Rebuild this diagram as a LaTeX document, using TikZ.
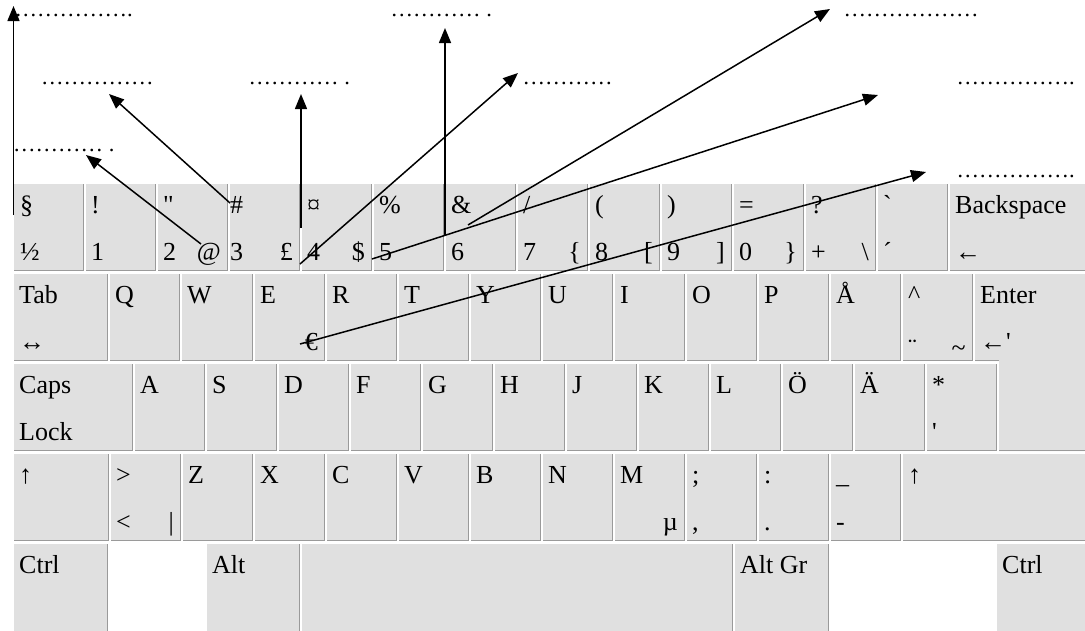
\documentclass[tikz,border=0pt]{standalone}
\usepackage{fontspec}
\setmainfont{Liberation Serif}
\usetikzlibrary{arrows.meta}

\definecolor{keyface}{HTML}{E0E0E0}
\definecolor{keyedge}{HTML}{9A9A9A}

\begin{document}
\begin{tikzpicture}[x=1pt,y=-1pt,
    keycap/.style={fill=keyface},
    keyline/.style={draw=keyedge,line width=1.3pt},
    keytext/.style={inner sep=0pt,font=\fontsize{26}{30}\selectfont},
    dotline/.style={inner sep=0pt,anchor=base west,font=\fontsize{22.5}{27}\selectfont},
    pointer/.style={line width=1.5pt,-{Triangle[length=15pt,width=12pt]}}]
    \useasboundingbox (0,0) rectangle (1085,630);

    % number row
    \foreach \xa/\xb/\dx/\up/\lo/\rt [count=\i] in {12/84/8/§/½/{}, 84/156/7/!/1/{},
        156/228/7/\textquotedbl/2/@, 228/300/2/\#/3/£, 300/372/7/¤/4/\$,
        372/444/7/\%/5/{}, 444/516/7/\&/6/{}, 516/588/7/{/}/7/\{, 588/660/7/(/8/[,
        660/732/7/)/9/], 732/804/7/=/0/\}, 804/876/7/?/+/\textbackslash,
        876/948/7/\textasciigrave/´/{}, 948/1087/7/Backspace/←/{}}{
        \path[keycap] (\xa+2,184) rectangle (\xb,271);
        \draw[keyline] (\xb-0.65,184) -- (\xb-0.65,270.35) -- (\xa+2,270.35);
        \node[keytext,anchor=base west] (numup\i) at (\xa+\dx,213) {\up};
        \node[keytext,anchor=base west] (numlo\i) at (\xa+\dx,260.5) {\lo};
        \node[keytext,anchor=base east] (numrt\i) at (\xb-7,260.5) {\rt};
    }

    % qwerty row
    \foreach \xa/\xb/\up/\lo/\rt [count=\i] in {12/108/Tab/↔/{}, 108/180/Q/{}/{},
        180/253/W/{}/{}, 253/325/E/{}/€, 325/397/R/{}/{}, 397/469/T/{}/{},
        469/541/Y/{}/{}, 541/613/U/{}/{}, 613/685/I/{}/{}, 685/757/O/{}/{},
        757/829/P/{}/{}, 829/901/Å/{}/{}, 901/973/\textasciicircum/{}/{}}{
        \path[keycap] (\xa+2,274) rectangle (\xb,361);
        \draw[keyline] (\xb-0.65,274) -- (\xb-0.65,360.35) -- (\xa+2,360.35);
        \node[keytext,anchor=base west] (qup\i) at (\xa+7,303) {\up};
        \node[keytext,anchor=base west] (qlo\i) at (\xa+7,350.5) {\lo};
        \node[keytext,anchor=base east] (qrt\i) at (\xb-7,350.5) {\rt};
    }
    \node[keytext,anchor=base west] (dier) at (908,356) {¨};
    \node[keytext,anchor=base east] (tilde) at (966,356) {\textasciitilde};

    % enter, over two rows
    \path[keycap] (975,274) -- (1087,274) -- (1087,451) -- (999,451)
        -- (999,361) -- (975,361) -- cycle;
    \draw[keyline] (975,360.35) -- (999,360.35);
    \draw[keyline] (999,450.35) -- (1087,450.35);
    \node[keytext,anchor=base west] (enter) at (980,303) {Enter};
    \node[keytext,anchor=base west] (enterlo) at (980,350.5) {←\textquotesingle};

    % home row
    \foreach \xa/\xb/\up/\lo [count=\i] in {12/133/Caps/Lock, 133/205/A/{},
        205/277/S/{}, 277/349/D/{}, 349/421/F/{}, 421/493/G/{}, 493/565/H/{},
        565/637/J/{}, 637/709/K/{}, 709/781/L/{}, 781/853/Ö/{}, 853/925/Ä/{},
        925/997/*/\textquotesingle}{
        \path[keycap] (\xa+2,364) rectangle (\xb,451);
        \draw[keyline] (\xb-0.65,364) -- (\xb-0.65,450.35) -- (\xa+2,450.35);
        \node[keytext,anchor=base west] (hup\i) at (\xa+7,393) {\up};
        \node[keytext,anchor=base west] (hlo\i) at (\xa+7,440.5) {\lo};
    }

    % shift row
    \foreach \xa/\xb/\up/\lo/\rt [count=\i] in {12/109/↑/{}/{}, 109/181/>/</|,
        181/253/Z/{}/{}, 253/325/X/{}/{}, 325/397/C/{}/{}, 397/469/V/{}/{},
        469/541/B/{}/{}, 541/613/N/{}/{}, 613/685/M/{}/µ, 685/757/{;}/{,}/{},
        757/829/{:}/{.}/{}, 829/901/\_/-/{}, 901/1087/↑/{}/{}}{
        \path[keycap] (\xa+2,454) rectangle (\xb,541);
        \draw[keyline] (\xb-0.65,454) -- (\xb-0.65,540.35) -- (\xa+2,540.35);
        \node[keytext,anchor=base west] (sup\i) at (\xa+7,483) {\up};
        \node[keytext,anchor=base west] (slo\i) at (\xa+7,530.5) {\lo};
        \node[keytext,anchor=base east] (srt\i) at (\xb-7,530.5) {\rt};
    }

    % bottom row
    \foreach \xa/\xb/\lab [count=\i] in {12/108/Ctrl, 205/300/Alt, 300/733/{},
        733/829/Alt Gr, 995/1087/Ctrl}{
        \path[keycap] (\xa+2,544) rectangle (\xb,632);
        \draw[keyline] (\xb-0.65,544) -- (\xb-0.65,632);
        \node[keytext,anchor=base west] (bot\i) at (\xa+7,573) {\lab};
    }

    % blanks to fill in
    \node[dotline] (d1) at (14.5,16) {…………….};
    \node[dotline] (d2) at (41,84) {……………};
    \node[dotline] (d3) at (248.5,84) {………… .};
    \node[dotline] (d4) at (390.5,16) {………… .};
    \node[dotline] (d5) at (13,151.5) {………… .};
    \node[dotline] (d6) at (522.5,84) {…………};
    \node[dotline] (d7) at (843.5,16) {………………};
    \node[dotline] (d8) at (956.5,84) {…………….};
    \node[dotline] (d9) at (956.5,177.5) {…………….};

    % arrows
    \coordinate (from1) at (13.5,215);  \coordinate (to1) at (13.5,6);
    \coordinate (from2) at (201,244);   \coordinate (to2) at (86,155);
    \coordinate (from3) at (230,203);   \coordinate (to3) at (109,94);
    \coordinate (from4) at (301,228);   \coordinate (to4) at (301,94);
    \coordinate (from5) at (300,264);   \coordinate (to5) at (518,73);
    \coordinate (from6) at (445,236);   \coordinate (to6) at (445,28);
    \coordinate (from7) at (468,225);   \coordinate (to7) at (830,9);
    \coordinate (from8) at (372,259);   \coordinate (to8) at (878,95);
    \coordinate (from9) at (300,344);   \coordinate (to9) at (926,172);
    \foreach \i in {1,...,9}
        \draw[pointer] (from\i) -- (to\i);
\end{tikzpicture}
\end{document}
